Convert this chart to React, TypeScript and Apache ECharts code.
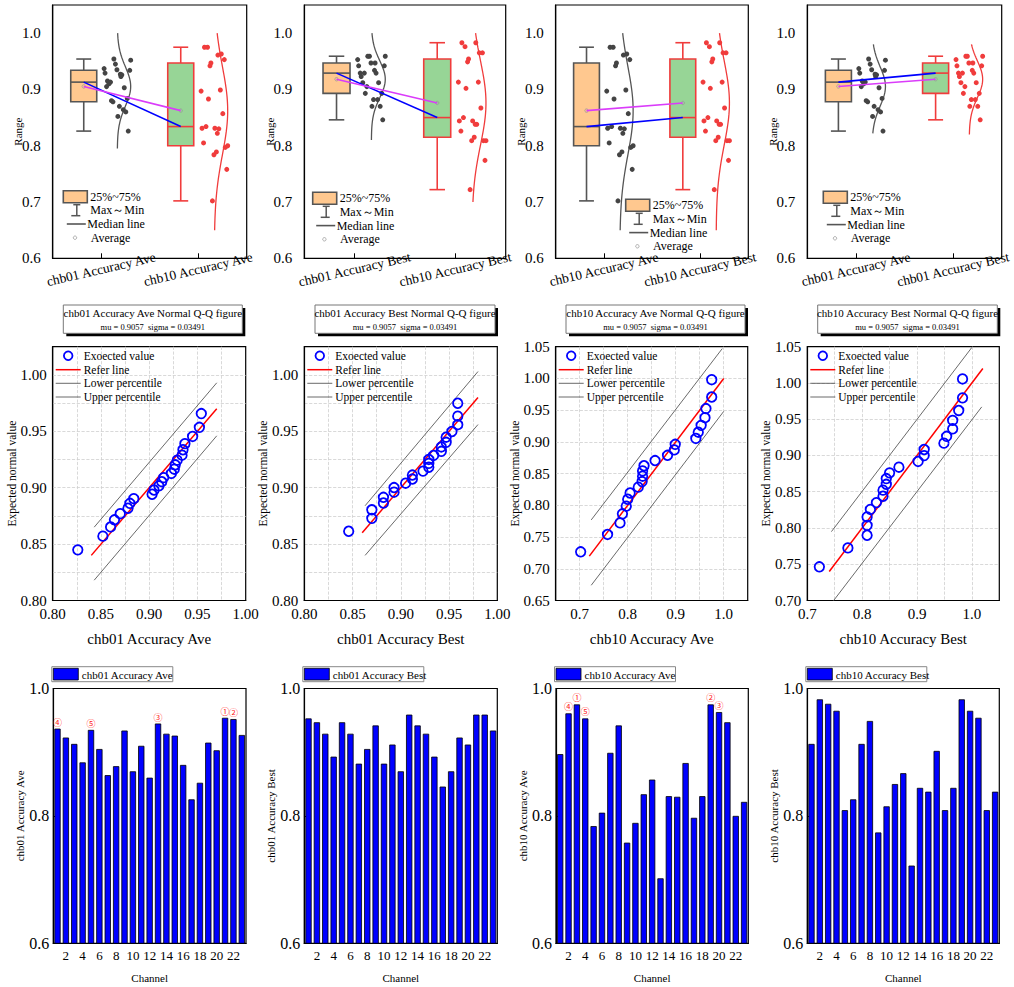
import React, { useEffect, useRef } from "react";
import * as echarts from "echarts";

// ---------------- data ----------------
const channels = ["1","2","3","4","5","6","7","8","9","10","11","12","13","14","15","16","17","18","19","20","21","22","23"];
const chb01Ave = [0.937,0.923,0.913,0.884,0.935,0.905,0.864,0.878,0.934,0.870,0.910,0.860,0.945,0.929,0.926,0.880,0.826,0.852,0.915,0.903,0.954,0.952,0.927];
const chb01Best = [0.953,0.947,0.929,0.893,0.947,0.929,0.882,0.905,0.942,0.882,0.912,0.870,0.959,0.942,0.929,0.893,0.846,0.870,0.923,0.912,0.959,0.959,0.934];
const chb10Ave = [0.897,0.961,0.975,0.953,0.784,0.805,0.899,0.942,0.758,0.789,0.834,0.857,0.702,0.831,0.830,0.883,0.797,0.831,0.975,0.963,0.947,0.800,0.822];
const chb10Best = [0.913,0.983,0.976,0.965,0.809,0.826,0.913,0.949,0.774,0.815,0.850,0.867,0.722,0.844,0.838,0.902,0.809,0.844,0.983,0.965,0.954,0.809,0.838];

const N01A = "chb01 Accuracy Ave";
const N01B = "chb01 Accuracy Best";
const N10A = "chb10 Accuracy Ave";
const N10B = "chb10 Accuracy Best";

// circled rank labels [channel, glyph]
const marks01Ave: [number, string][] = [[1,"④"],[5,"⑤"],[13,"③"],[21,"①"],[22,"②"]];
const marks10Ave: [number, string][] = [[2,"④"],[3,"①"],[4,"⑤"],[19,"②"],[20,"③"]];

// vertical extent of the half-violin curves [low, high] (left, right)
const curve1 = [[0.795,1.0],[0.65,1.0]];
const curve2 = [[0.81,1.0],[0.70,1.0]];
const curve3 = [[0.65,1.0],[0.65,1.0]];
const curve4 = [[0.822,0.98],[0.82,0.98]];

// Q-Q refer lines [from, to] (y = x)
const refer1 = [0.84, 0.97];
const refer2 = [0.86, 0.98];
const refer3 = [0.72, 1.0];
const refer4 = [0.74, 1.02];

// Q-Q percentile lines
const upper1 = [[0.843,0.865],[0.970,0.993]];
const lower1 = [[0.843,0.818],[0.970,0.946]];
const upper2 = [[0.863,0.884],[0.980,1.003]];
const lower2 = [[0.863,0.840],[0.980,0.956]];
const upper3 = [[0.724,0.777],[0.997,1.047]];
const lower3 = [[0.724,0.674],[1.0,0.948]];
const upper4 = [[0.744,0.795],[1.0,1.049]];
const lower4 = [[0.744,0.696],[1.018,0.967]];

const qqSubtitle = "mu = 0.9057  sigma = 0.03491";

// ---------------- helpers ----------------
const SERIF = "'Liberation Serif', 'Times New Roman', serif";
const CJK = "'Noto Sans CJK SC', 'Noto Sans', sans-serif";

function stats(vals: number[]) {
  const s = [...vals].sort((a, b) => a - b);
  const n = s.length;
  const q = (p: number) => {
    const pos = (n + 1) * p;
    const lo = Math.floor(pos);
    const fr = pos - lo;
    if (lo < 1) return s[0];
    if (lo >= n) return s[n - 1];
    return s[lo - 1] + fr * (s[lo] - s[lo - 1]);
  };
  const mean = vals.reduce((a, b) => a + b, 0) / n;
  const sd = Math.sqrt(vals.reduce((a, b) => a + (b - mean) ** 2, 0) / (n - 1));
  return { sorted: s, n, min: s[0], max: s[n - 1], q1: q(0.25), med: q(0.5), q3: q(0.75), mean, sd };
}

function invNorm(p: number) {
  const a = [-3.969683028665376e1, 2.209460984245205e2, -2.759285104469687e2, 1.38357751867269e2, -3.066479806614716e1, 2.506628277459239];
  const b = [-5.447609879822406e1, 1.615858368580409e2, -1.556989798598866e2, 6.680131188771972e1, -1.328068155288572e1];
  const c = [-7.784894002430293e-3, -3.223964580411365e-1, -2.400758277161838, -2.549732539343734, 4.374664141464968, 2.938163982698783];
  const d = [7.784695709041462e-3, 3.224671290700398e-1, 2.445134137142996, 3.754408661907416];
  const pl = 0.02425;
  if (p < pl) {
    const q = Math.sqrt(-2 * Math.log(p));
    return (((((c[0] * q + c[1]) * q + c[2]) * q + c[3]) * q + c[4]) * q + c[5]) / ((((d[0] * q + d[1]) * q + d[2]) * q + d[3]) * q + 1);
  }
  if (p <= 1 - pl) {
    const q = p - 0.5;
    const r = q * q;
    return (((((a[0] * r + a[1]) * r + a[2]) * r + a[3]) * r + a[4]) * r + a[5]) * q / (((((b[0] * r + b[1]) * r + b[2]) * r + b[3]) * r + b[4]) * r + 1);
  }
  const q = Math.sqrt(-2 * Math.log(1 - p));
  return -(((((c[0] * q + c[1]) * q + c[2]) * q + c[3]) * q + c[4]) * q + c[5]) / ((((d[0] * q + d[1]) * q + d[2]) * q + d[3]) * q + 1);
}

const isStep = (v: number, s: number) => Math.abs(v / s - Math.round(v / s)) < 1e-6;

function T(text: string, x: number, y: number, size: number, align = "left", font = SERIF): any {
  return {
    type: "text", z: 100,
    style: { text, x, y, fill: "#000", font: `${size}px ${font}`, textAlign: align, align, textVerticalAlign: "middle", verticalAlign: "middle" },
  };
}
function L(x1: number, y1: number, x2: number, y2: number, stroke: string, lineWidth: number): any {
  return { type: "line", z: 100, shape: { x1, y1, x2, y2 }, style: { stroke, lineWidth } };
}

const sideStyle = [
  { fill: "#FFC88F", edge: "#555555", dot: "#444444", curve: "#555555" },
  { fill: "#97D596", edge: "#F03C3C", dot: "#F03C3C", curve: "#F03C3C" },
];

// layout
const topPanels = [
  { l: 52.7, w: 194, pair: [chb01Ave, chb10Ave], names: [N01A, N10A], curves: curve1, legend: [63.3, 190.7] },
  { l: 304.3, w: 201.4, pair: [chb01Best, chb10Best], names: [N01B, N10B], curves: curve2, legend: [312.7, 192.3] },
  { l: 555.7, w: 192.6, pair: [chb10Ave, chb10Best], names: [N10A, N10B], curves: curve3, legend: [625.7, 199.3] },
  { l: 807.3, w: 194.4, pair: [chb01Ave, chb01Best], names: [N01A, N01B], curves: curve4, legend: [823.3, 191.3] },
];
const qqPanels = [
  { l: 52.7, w: 193, data: chb01Ave, name: N01A, x: [0.8, 1.0], y: [0.8, 1.025], xs: 0.025, xl: 0.05, ys: 0.025, yl: 0.05, xd: 2, refer: refer1, up: upper1, lo: lower1, box: [63.3, 179] },
  { l: 304.3, w: 193, data: chb01Best, name: N01B, x: [0.8, 1.0], y: [0.8, 1.025], xs: 0.025, xl: 0.05, ys: 0.025, yl: 0.05, xd: 2, refer: refer2, up: upper2, lo: lower2, box: [315, 180] },
  { l: 555.7, w: 192, data: chb10Ave, name: N10A, x: [0.65, 1.05], y: [0.65, 1.05], xs: 0.05, xl: 0.1, ys: 0.05, yl: 0.05, xd: 1, refer: refer3, up: upper3, lo: lower3, box: [566, 179] },
  { l: 807.3, w: 192, data: chb10Best, name: N10B, x: [0.7, 1.05], y: [0.7, 1.05], xs: 0.05, xl: 0.1, ys: 0.05, yl: 0.05, xd: 1, refer: refer4, up: upper4, lo: lower4, box: [817.7, 179.6] },
];
const barPanels = [
  { l: 53.3, w: 192.7, data: chb01Ave, name: N01A, marks: marks01Ave },
  { l: 304.3, w: 193, data: chb01Best, name: N01B, marks: [] as [number, string][] },
  { l: 556, w: 192.3, data: chb10Ave, name: N10A, marks: marks10Ave },
  { l: 807.3, w: 192, data: chb10Best, name: N10B, marks: [] as [number, string][] },
];

function buildOption() {
  const grid: any[] = [];
  const xAxis: any[] = [];
  const yAxis: any[] = [];
  const series: any[] = [];
  const graphic: any[] = [];
  const axisLine = { show: true, lineStyle: { color: "#000", width: 1.2 } };
  const gridBase = { show: true, borderColor: "#000", borderWidth: 1.2, backgroundColor: "transparent", containLabel: false, outerBoundsMode: "none" };

  // ---------- top row: box + jitter + half violin ----------
  const BOX_OFF = -0.18, BOX_HALF = 0.134, CAP_HALF = 0.077;
  topPanels.forEach((p) => {
    const g = grid.length;
    grid.push({ ...gridBase, left: p.l, top: 5, width: p.w, height: 253.3 });
    xAxis.push({
      gridIndex: g, type: "category", data: p.names, axisLine,
      axisTick: { show: true, inside: true, alignWithLabel: true, length: 5, lineStyle: { color: "#000" } },
      axisLabel: { interval: 0, rotate: 13, align: "center", verticalAlign: "middle", margin: 11, fontSize: 13.5, color: "#000", fontFamily: SERIF },
      splitLine: { show: false },
    });
    const xv = xAxis.length;
    xAxis.push({ gridIndex: g, type: "value", min: 0, max: 2, show: false });
    const yi = yAxis.length;
    yAxis.push({
      gridIndex: g, type: "value", min: 0.6, max: 1.05, interval: 0.1,
      name: "Range", nameLocation: "middle", nameGap: 29, nameMoveOverlap: false,
      nameTextStyle: { fontSize: 11, color: "#000", fontFamily: SERIF },
      axisLine, axisTick: { show: false }, splitLine: { show: false },
      axisLabel: { fontSize: 15, color: "#000", fontFamily: SERIF, margin: 12, formatter: (v: number) => (isStep(v, 0.1) ? v.toFixed(1) : "") },
    });
    const st = p.pair.map((d) => stats(d));
    const centers = [0.5, 1.5];
    series.push({
      type: "custom", xAxisIndex: xv, yAxisIndex: yi, silent: true, z: 2,
      data: st.map((s, k) => [centers[k] + BOX_OFF, s.min, s.q1, s.med, s.q3, s.max, s.mean, k]),
      renderItem: (_params: any, api: any) => {
        const c = api.value(0), mn = api.value(1), q1 = api.value(2), md = api.value(3), q3 = api.value(4), mx = api.value(5), av = api.value(6);
        const ss = sideStyle[api.value(7)];
        const [xl, yq3] = api.coord([c - BOX_HALF, q3]);
        const [xr, yq1] = api.coord([c + BOX_HALF, q1]);
        const [xc, ymd] = api.coord([c, md]);
        const ymx = api.coord([c, mx])[1];
        const ymn = api.coord([c, mn])[1];
        const yav = api.coord([c, av])[1];
        const cl = api.coord([c - CAP_HALF, mn])[0];
        const cr = api.coord([c + CAP_HALF, mn])[0];
        const ls = { stroke: ss.edge, lineWidth: 1.6 };
        return {
          type: "group",
          children: [
            { type: "line", shape: { x1: xc, y1: yq3, x2: xc, y2: ymx }, style: ls },
            { type: "line", shape: { x1: xc, y1: yq1, x2: xc, y2: ymn }, style: ls },
            { type: "line", shape: { x1: cl, y1: ymx, x2: cr, y2: ymx }, style: ls },
            { type: "line", shape: { x1: cl, y1: ymn, x2: cr, y2: ymn }, style: ls },
            { type: "rect", shape: { x: xl, y: yq3, width: xr - xl, height: yq1 - yq3 }, style: { fill: ss.fill, stroke: ss.edge, lineWidth: 1.6 } },
            { type: "line", shape: { x1: xl, y1: ymd, x2: xr, y2: ymd }, style: ls },
            { type: "circle", shape: { cx: xc, cy: yav, r: 1.7 }, style: { fill: "none", stroke: "#999", lineWidth: 0.8 } },
          ],
        };
      },
    });
    st.forEach((s, k) => {
      const c = centers[k];
      const vals = p.pair[k];
      series.push({
        type: "scatter", xAxisIndex: xv, yAxisIndex: yi, silent: true, z: 3,
        symbol: "circle", symbolSize: 5,
        itemStyle: { color: sideStyle[k].dot, opacity: 1 },
        data: vals.map((v, i) => [c + 0.03 + 0.28 * ((i * 0.6180339887) % 1), v]),
      });
      const [lo, hi] = p.curves[k];
      const pts: number[][] = [];
      for (let j = 0; j <= 80; j++) {
        const y = lo + ((hi - lo) * j) / 80;
        const z = (y - s.mean) / s.sd;
        pts.push([c + 0.166 + 0.138 * Math.exp(-z * z / 2), y]);
      }
      series.push({
        type: "line", xAxisIndex: xv, yAxisIndex: yi, silent: true, z: 3,
        symbol: "none", showSymbol: false, lineStyle: { color: sideStyle[k].curve, width: 1.3 }, data: pts,
      });
    });
    series.push({
      type: "line", xAxisIndex: xv, yAxisIndex: yi, silent: true, z: 4, symbol: "none",
      lineStyle: { color: "#0000FF", width: 1.6 },
      data: st.map((s, k) => [centers[k] + BOX_OFF, s.med]),
    });
    series.push({
      type: "line", xAxisIndex: xv, yAxisIndex: yi, silent: true, z: 4, symbol: "none",
      lineStyle: { color: "#DA3CFA", width: 1.6 },
      data: st.map((s, k) => [centers[k] + BOX_OFF, s.mean]),
    });
    // legend
    const [lx, ly] = p.legend;
    graphic.push(
      { type: "rect", z: 100, shape: { x: lx, y: ly, width: 24, height: 12 }, style: { fill: "#FFC88F", stroke: "#555", lineWidth: 1.6 } },
      T("25%~75%", lx + 27, ly + 6, 12),
      L(lx + 10, ly + 14, lx + 17, ly + 14, "#555", 1.5),
      L(lx + 13.5, ly + 14, lx + 13.5, ly + 25, "#555", 1.5),
      L(lx + 8, ly + 25, lx + 17, ly + 25, "#555", 1.5),
      T("Max～Min", lx + 27, ly + 19.5, 12),
      L(lx + 3.5, ly + 33.3, lx + 22.5, ly + 33.3, "#555", 1.6),
      T("Median line", lx + 24, ly + 33.3, 12),
      { type: "circle", z: 100, shape: { cx: lx + 11.7, cy: ly + 47, r: 1.7 }, style: { fill: "none", stroke: "#999", lineWidth: 0.8 } },
      T("Average", lx + 27.4, ly + 47, 12),
    );
  });

  // ---------- middle row: Q-Q ----------
  qqPanels.forEach((p) => {
    const g = grid.length;
    const top = 346.7;
    grid.push({ ...gridBase, left: p.l, top, width: p.w, height: 253.8 });
    const dash = { show: true, showMinLine: false, showMaxLine: false, lineStyle: { color: "#cfcfcf", type: "dashed", width: 0.8 } };
    const xi = xAxis.length;
    xAxis.push({
      gridIndex: g, type: "value", min: p.x[0], max: p.x[1], interval: p.xs,
      name: p.name, nameLocation: "middle", nameGap: 31, nameMoveOverlap: false,
      nameTextStyle: { fontSize: 15, color: "#000", fontFamily: SERIF },
      axisLine, axisTick: { show: false }, splitLine: dash,
      axisLabel: { fontSize: 15, color: "#000", fontFamily: SERIF, margin: 6, formatter: (v: number) => (isStep(v, p.xl) ? v.toFixed(p.xd) : "") },
    });
    const yi = yAxis.length;
    yAxis.push({
      gridIndex: g, type: "value", min: p.y[0], max: p.y[1], interval: p.ys,
      name: "Expected normal value", nameLocation: "middle", nameGap: 35, nameMoveOverlap: false,
      nameTextStyle: { fontSize: 11.5, color: "#000", fontFamily: SERIF },
      axisLine, axisTick: { show: false }, splitLine: dash,
      axisLabel: { fontSize: 15, color: "#000", fontFamily: SERIF, margin: 6, formatter: (v: number) => (isStep(v, p.yl) ? v.toFixed(2) : "") },
    });
    const s = stats(p.data);
    const qq = s.sorted.map((v, i) => [v, s.mean + s.sd * invNorm((i + 1) / (s.n + 1))]);
    series.push(
      { type: "line", xAxisIndex: xi, yAxisIndex: yi, silent: true, symbol: "none", z: 2, lineStyle: { color: "#444", width: 0.8 }, data: p.lo },
      { type: "line", xAxisIndex: xi, yAxisIndex: yi, silent: true, symbol: "none", z: 2, lineStyle: { color: "#444", width: 0.8 }, data: p.up },
      { type: "line", xAxisIndex: xi, yAxisIndex: yi, silent: true, symbol: "none", z: 3, lineStyle: { color: "#FF0000", width: 1.5 }, data: [[p.refer[0], p.refer[0]], [p.refer[1], p.refer[1]]] },
      {
        type: "scatter", xAxisIndex: xi, yAxisIndex: yi, silent: true, z: 4, symbol: "circle", symbolSize: 9.5,
        itemStyle: { color: "rgba(255,255,255,0)", borderColor: "#0000FF", borderWidth: 1.8, opacity: 1 }, data: qq,
      },
    );
    // title box
    const [bx, bw] = p.box;
    const by = 305, bh = 28.3;
    graphic.push(
      { type: "rect", z: 99, shape: { x: bx + 3, y: by + 3, width: bw, height: bh }, style: { fill: "#000" } },
      { type: "rect", z: 100, shape: { x: bx, y: by, width: bw, height: bh }, style: { fill: "#fff", stroke: "#777", lineWidth: 1 } },
      T(`${p.name} Normal Q-Q figure`, bx + bw / 2, by + 8.4, 11, "center"),
      T(qqSubtitle, bx + bw / 2, by + 22.2, 8.5, "center"),
    );
    // legend
    const gl = p.l;
    graphic.push(
      { type: "circle", z: 100, shape: { cx: gl + 15.5, cy: top + 9, r: 4.3 }, style: { fill: "none", stroke: "#0000FF", lineWidth: 1.8 } },
      T("Exoected value", gl + 31, top + 9, 11.5),
      L(gl + 3, top + 23, gl + 28, top + 23, "#FF0000", 1.5),
      T("Refer line", gl + 31, top + 23, 11.5),
      L(gl + 3, top + 36.6, gl + 28, top + 36.6, "#444", 0.8),
      T("Lower percentile", gl + 31, top + 36.6, 11.5),
      L(gl + 3, top + 50.3, gl + 28, top + 50.3, "#444", 0.8),
      T("Upper percentile", gl + 31, top + 50.3, 11.5),
    );
  });

  // ---------- bottom row: bars ----------
  barPanels.forEach((p) => {
    const g = grid.length;
    grid.push({ ...gridBase, left: p.l, top: 688.5, width: p.w, height: 254.8 });
    const xi = xAxis.length;
    xAxis.push({
      gridIndex: g, type: "category", data: channels,
      name: "Channel", nameLocation: "middle", nameGap: 29, nameMoveOverlap: false,
      nameTextStyle: { fontSize: 11, color: "#000", fontFamily: SERIF },
      axisLine,
      axisTick: { show: true, inside: true, alignWithLabel: true, length: 5, interval: (i: number) => i % 2 === 1, lineStyle: { color: "#000" } },
      axisLabel: { interval: 0, fontSize: 13, color: "#000", fontFamily: SERIF, margin: 6, formatter: (v: string, i: number) => (i % 2 === 1 ? v : "") },
      splitLine: { show: false },
    });
    const yi = yAxis.length;
    yAxis.push({
      gridIndex: g, type: "value", min: 0.6, max: 1.0, interval: 0.2,
      name: p.name, nameLocation: "middle", nameGap: 28, nameMoveOverlap: false,
      nameTextStyle: { fontSize: 11, color: "#000", fontFamily: SERIF },
      axisLine, axisTick: { show: true, inside: true, length: 5, lineStyle: { color: "#000" } }, splitLine: { show: false },
      axisLabel: { fontSize: 16, color: "#000", fontFamily: SERIF, margin: 4, formatter: (v: number) => v.toFixed(1) },
    });
    series.push({
      type: "bar", xAxisIndex: xi, yAxisIndex: yi, silent: true, barWidth: "75%",
      itemStyle: { color: "#0000FF", borderColor: "#000", borderWidth: 0.8 },
      label: { show: false, position: "top", distance: 2, color: "#FF2020", fontSize: 9, fontFamily: CJK },
      data: p.data.map((v, i) => {
        const m = p.marks.find((mm) => mm[0] === i + 1);
        return m ? { value: v, label: { show: true, formatter: m[1] } } : v;
      }),
    });
    graphic.push(
      { type: "rect", z: 100, shape: { x: p.l - 1.5, y: 666.7, width: 121, height: 15 }, style: { fill: "#fff", stroke: "#888", lineWidth: 1 } },
      { type: "rect", z: 101, shape: { x: p.l, y: 668.3, width: 25, height: 11.7 }, style: { fill: "#0000FF", stroke: "#000", lineWidth: 0.8 } },
      { ...T(p.name, p.l + 28.5, 674.5, 11), z: 101 },
    );
  });

  return {
    animation: false,
    backgroundColor: "#fff",
    textStyle: { fontFamily: SERIF },
    grid, xAxis, yAxis, series, graphic,
  };
}

export default function App() {
  const ref = useRef<HTMLDivElement>(null);
  useEffect(() => {
    if (!ref.current) return;
    const chart = echarts.init(ref.current, null, { renderer: "svg" });
    chart.setOption(buildOption() as any);
    return () => chart.dispose();
  }, []);
  return <div ref={ref} style={{ position: "absolute", left: 0, top: 0, width: 1014, height: 987 }} />;
}
